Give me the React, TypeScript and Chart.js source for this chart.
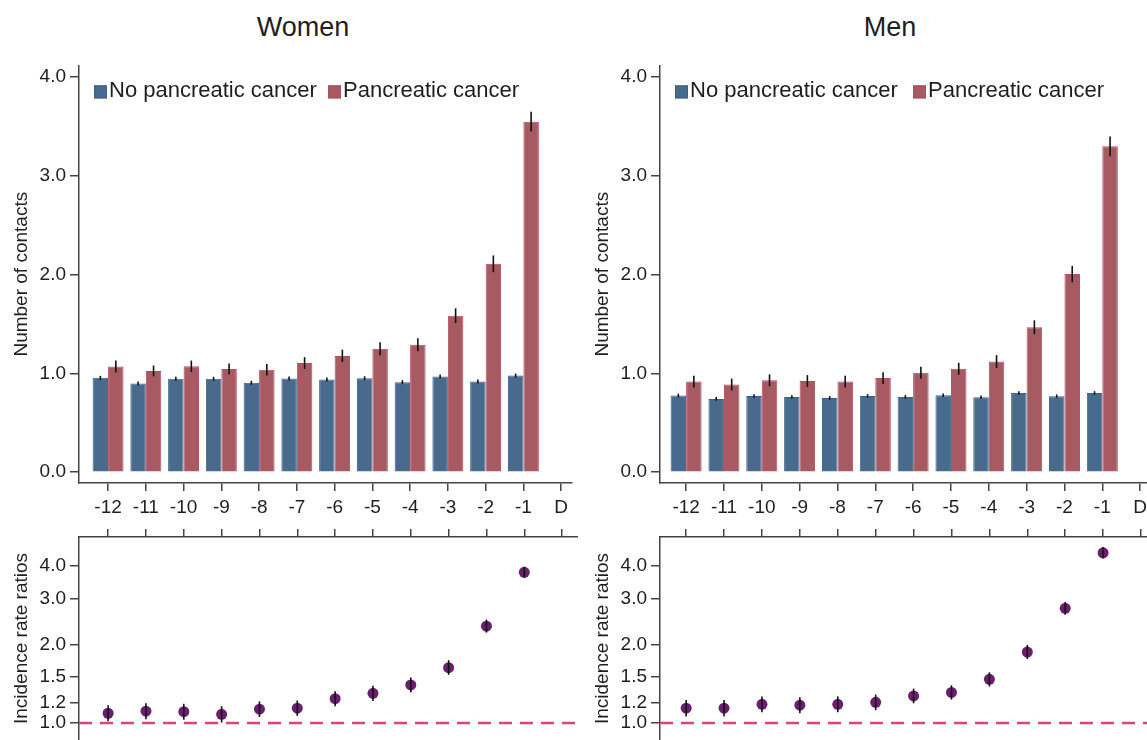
import React, { useEffect, useRef } from "react";
import { Chart, registerables } from "chart.js";

Chart.register(...registerables);

const FONT = "'Liberation Sans', Arial, Helvetica, sans-serif";
Chart.defaults.font.family = FONT;

// ---------- data ----------
const yearPositions = [-12, -11, -10, -9, -8, -7, -6, -5, -4, -3, -2, -1];
const xTickValues = [-12, -11, -10, -9, -8, -7, -6, -5, -4, -3, -2, -1, 0];
const xTickLabels = ["-12", "-11", "-10", "-9", "-8", "-7", "-6", "-5", "-4", "-3", "-2", "-1", "D"];
const contactTicks = [0, 1, 2, 3, 4];
const irrTicks = [1.0, 1.2, 1.5, 2.0, 3.0, 4.0];
const seriesNames = ["No pancreatic cancer", "Pancreatic cancer"];
const panelTitles = ["Women", "Men"];

// Women – number of contacts
const womenNoCancer = [0.955, 0.897, 0.945, 0.945, 0.905, 0.948, 0.938, 0.951, 0.911, 0.968, 0.918, 0.978];
const womenNoCancerLo = [0.935, 0.877, 0.925, 0.925, 0.885, 0.928, 0.918, 0.931, 0.891, 0.948, 0.898, 0.958];
const womenNoCancerHi = [0.975, 0.917, 0.965, 0.965, 0.925, 0.968, 0.958, 0.971, 0.931, 0.988, 0.938, 0.998];
const womenCancer = [1.07, 1.025, 1.072, 1.045, 1.038, 1.105, 1.176, 1.25, 1.29, 1.585, 2.11, 3.55];
const womenCancerLo = [1.01, 0.97, 1.015, 0.99, 0.98, 1.045, 1.115, 1.185, 1.225, 1.51, 2.025, 3.45];
const womenCancerHi = [1.13, 1.08, 1.13, 1.1, 1.095, 1.165, 1.24, 1.315, 1.355, 1.66, 2.195, 3.65];

// Men – number of contacts
const menNoCancer = [0.776, 0.742, 0.772, 0.762, 0.752, 0.772, 0.762, 0.779, 0.759, 0.802, 0.769, 0.802];
const menNoCancerLo = [0.758, 0.724, 0.754, 0.744, 0.734, 0.754, 0.744, 0.761, 0.741, 0.784, 0.751, 0.784];
const menNoCancerHi = [0.794, 0.76, 0.79, 0.78, 0.77, 0.79, 0.78, 0.797, 0.777, 0.82, 0.787, 0.82];
const menCancer = [0.917, 0.887, 0.93, 0.923, 0.917, 0.953, 1.007, 1.047, 1.12, 1.468, 2.006, 3.3];
const menCancerLo = [0.857, 0.827, 0.87, 0.863, 0.857, 0.893, 0.947, 0.987, 1.055, 1.398, 1.923, 3.2];
const menCancerHi = [0.977, 0.947, 0.99, 0.983, 0.977, 1.013, 1.067, 1.107, 1.185, 1.538, 2.089, 3.4];

// Incidence rate ratios
const womenIrr = [1.09, 1.11, 1.105, 1.08, 1.13, 1.14, 1.24, 1.3, 1.4, 1.63, 2.35, 3.78];
const womenIrrLo = [1.015, 1.035, 1.03, 1.005, 1.055, 1.065, 1.16, 1.215, 1.31, 1.53, 2.22, 3.6];
const womenIrrHi = [1.17, 1.19, 1.185, 1.16, 1.21, 1.22, 1.325, 1.39, 1.495, 1.74, 2.49, 3.97];
const menIrr = [1.14, 1.14, 1.18, 1.17, 1.18, 1.2, 1.27, 1.31, 1.47, 1.87, 2.75, 4.49];
const menIrrLo = [1.06, 1.06, 1.1, 1.09, 1.1, 1.12, 1.19, 1.23, 1.38, 1.76, 2.6, 4.27];
const menIrrHi = [1.225, 1.225, 1.265, 1.255, 1.265, 1.285, 1.355, 1.395, 1.565, 1.99, 2.91, 4.72];

// ---------- styles ----------
const BLUE = "#486b8d";
const BLUE_BORDER = "#3a6189";
const RED = "#a85a62";
const RED_BORDER = "#b24d5d";
const PURPLE = "#6b1e6e";
const REF_RED = "#db4670";
const AXIS = "#444444";
const TEXT = "#1e1e1e";

const errorBarPlugin = {
  id: "errorBars",
  afterDatasetsDraw(chart: any) {
    const ctx = chart.ctx;
    const ys = chart.scales.y;
    chart.data.datasets.forEach((ds: any, di: number) => {
      if (!ds.errLo) return;
      const meta = chart.getDatasetMeta(di);
      ctx.save();
      ctx.strokeStyle = "#111111";
      ctx.lineWidth = 1.6;
      meta.data.forEach((el: any, i: number) => {
        ctx.beginPath();
        ctx.moveTo(el.x, ys.getPixelForValue(ds.errLo[i]));
        ctx.lineTo(el.x, ys.getPixelForValue(ds.errHi[i]));
        ctx.stroke();
      });
      ctx.restore();
    });
  },
};

const insideLegendPlugin = {
  id: "insideLegend",
  afterDraw(chart: any, _args: any, opts: any) {
    if (!opts || !opts.display) return;
    const ctx = chart.ctx;
    const { left, top } = chart.chartArea;
    const items = chart.data.datasets.map((ds: any) => ({ text: ds.label, color: ds.backgroundColor, border: ds.borderColor }));
    const offsets = [15, opts.offset2];
    ctx.save();
    ctx.font = `22px ${FONT}`;
    ctx.textBaseline = "middle";
    ctx.fillStyle = TEXT;
    items.forEach((it: any, i: number) => {
      const bx = left + offsets[i];
      const by = top + 20;
      ctx.fillStyle = it.color;
      ctx.fillRect(bx, by, 13, 13);
      ctx.strokeStyle = it.border;
      ctx.lineWidth = 1;
      ctx.strokeRect(bx + 0.5, by + 0.5, 12, 12);
      ctx.fillStyle = TEXT;
      ctx.fillText(it.text, bx + 15, by + 6);
    });
    ctx.restore();
  },
};

const refLinePlugin = {
  id: "refLine",
  beforeDatasetsDraw(chart: any) {
    const ctx = chart.ctx;
    const { left, right } = chart.chartArea;
    const y = chart.scales.y.getPixelForValue(1);
    ctx.save();
    ctx.strokeStyle = REF_RED;
    ctx.lineWidth = 2.5;
    ctx.setLineDash([13, 8]);
    ctx.beginPath();
    ctx.moveTo(left, y);
    ctx.lineTo(right, y);
    ctx.stroke();
    ctx.restore();
  },
};

const tickFont = { family: FONT, size: 19 };

function xAxis(xMin: number, xMax: number, position: string, showLabels: boolean) {
  return {
    type: "linear",
    position,
    min: xMin,
    max: xMax,
    offset: false,
    afterBuildTicks: (s: any) => {
      s.ticks = xTickValues.map((v) => ({ value: v }));
    },
    afterFit: (s: any) => {
      s.height = 37;
    },
    ticks: {
      display: showLabels,
      autoSkip: false,
      maxRotation: 0,
      padding: 5,
      font: tickFont,
      color: TEXT,
      callback: (v: any) => {
        const idx = xTickValues.indexOf(Number(v));
        return idx >= 0 ? xTickLabels[idx] : "";
      },
    },
    grid: { offset: false, drawOnChartArea: false, drawTicks: true, tickLength: 8, color: AXIS, lineWidth: 1.5 },
    border: { display: true, color: AXIS, width: 1.5 },
  };
}

function yAxisBase(title: string, noEdgePadding: boolean) {
  return {
    afterFit: (s: any) => {
      s.width = 79;
      if (noEdgePadding) {
        s.paddingTop = 0;
        s.paddingBottom = 0;
      }
    },
    ticks: {
      padding: 4,
      font: tickFont,
      color: TEXT,
      callback: (v: any) => Number(v).toFixed(1),
    },
    grid: { drawOnChartArea: false, drawTicks: true, tickLength: 9, color: AXIS, lineWidth: 1.5 },
    border: { display: true, color: AXIS, width: 1.5 },
    title: { display: true, text: title, font: { family: FONT, size: 19 }, color: TEXT, padding: { top: 10, bottom: 0 } },
  };
}

function contactsConfig(
  noCa: number[], noLo: number[], noHi: number[],
  ca: number[], caLo: number[], caHi: number[],
  xMin: number, xMax: number, legendOffset: number
) {
  return {
    type: "bar",
    data: {
      datasets: [
        {
          label: seriesNames[0],
          data: yearPositions.map((x, i) => ({ x, y: noCa[i] })),
          backgroundColor: BLUE,
          borderColor: BLUE_BORDER,
          borderWidth: 1,
          categoryPercentage: 0.82,
          barPercentage: 1.0,
          errLo: noLo,
          errHi: noHi,
        },
        {
          label: seriesNames[1],
          data: yearPositions.map((x, i) => ({ x, y: ca[i] })),
          backgroundColor: RED,
          borderColor: RED_BORDER,
          borderWidth: 1,
          categoryPercentage: 0.82,
          barPercentage: 1.0,
          errLo: caLo,
          errHi: caHi,
        },
      ],
    },
    options: {
      responsive: false,
      animation: false,
      layout: { padding: { top: 12, right: 0, bottom: 0, left: 0 }, autoPadding: false },
      plugins: {
        legend: { display: false },
        tooltip: { enabled: false },
        insideLegend: { display: true, offset2: legendOffset },
      },
      scales: {
        x: xAxis(xMin, xMax, "bottom", true),
        y: {
          type: "linear",
          min: -0.11,
          max: 4.12,
          afterBuildTicks: (s: any) => {
            s.ticks = contactTicks.map((v) => ({ value: v }));
          },
          ...yAxisBase("Number of contacts", false),
        },
      },
    },
    plugins: [errorBarPlugin, insideLegendPlugin],
  };
}

function irrConfig(vals: number[], lo: number[], hi: number[], xMin: number, xMax: number) {
  return {
    type: "scatter",
    data: {
      datasets: [
        {
          label: "IRR",
          data: yearPositions.map((x, i) => ({ x, y: vals[i] })),
          backgroundColor: PURPLE,
          borderColor: PURPLE,
          borderWidth: 0,
          pointRadius: 5.5,
          showLine: false,
          errLo: lo,
          errHi: hi,
        },
      ],
    },
    options: {
      responsive: false,
      animation: false,
      layout: { padding: 0, autoPadding: false },
      plugins: { legend: { display: false }, tooltip: { enabled: false } },
      scales: {
        x: xAxis(xMin, xMax, "top", false),
        y: {
          type: "logarithmic",
          min: 0.861,
          max: 5.16,
          afterBuildTicks: (s: any) => {
            s.ticks = irrTicks.map((v) => ({ value: v }));
          },
          ...yAxisBase("Incidence rate ratios", true),
        },
      },
    },
    plugins: [refLinePlugin, errorBarPlugin],
  };
}

function ChartBox(props: { left: number; top: number; width: number; height: number; make: () => any }) {
  const ref = useRef<HTMLCanvasElement | null>(null);
  useEffect(() => {
    if (!ref.current) return;
    const chart = new Chart(ref.current, props.make());
    return () => chart.destroy();
  }, []);
  return (
    <canvas
      ref={ref}
      width={props.width}
      height={props.height}
      style={{ position: "absolute", left: props.left, top: props.top, width: props.width, height: props.height, display: "block" }}
    />
  );
}

const WOMEN_XMIN = -12.77;
const MEN_XMIN = -12.69;
const TOP_XMAX = 0.29;
const WOMEN_BOTTOM_XMAX = 0.42;

export default function App() {
  const titleStyle = (cx: number): React.CSSProperties => ({
    position: "absolute",
    left: cx - 150,
    top: 0,
    width: 300,
    height: 54,
    lineHeight: "54px",
    textAlign: "center",
    fontFamily: FONT,
    fontSize: 27,
    color: TEXT,
  });
  return (
    <div style={{ position: "absolute", left: 0, top: 0, width: 1147, height: 740, overflow: "hidden", background: "#ffffff" }}>
      <div style={titleStyle(303)}>{panelTitles[0]}</div>
      <div style={titleStyle(890)}>{panelTitles[1]}</div>
      <ChartBox
        left={0}
        top={50}
        width={573}
        height={470}
        make={() => contactsConfig(womenNoCancer, womenNoCancerLo, womenNoCancerHi, womenCancer, womenCancerLo, womenCancerHi, WOMEN_XMIN, TOP_XMAX, 249)}
      />
      <ChartBox
        left={581}
        top={50}
        width={571}
        height={470}
        make={() => contactsConfig(menNoCancer, menNoCancerLo, menNoCancerHi, menCancer, menCancerLo, menCancerHi, MEN_XMIN, TOP_XMAX, 253)}
      />
      <ChartBox left={0} top={500} width={578} height={240} make={() => irrConfig(womenIrr, womenIrrLo, womenIrrHi, WOMEN_XMIN, WOMEN_BOTTOM_XMAX)} />
      <ChartBox left={581} top={500} width={571} height={240} make={() => irrConfig(menIrr, menIrrLo, menIrrHi, MEN_XMIN, TOP_XMAX)} />
    </div>
  );
}
